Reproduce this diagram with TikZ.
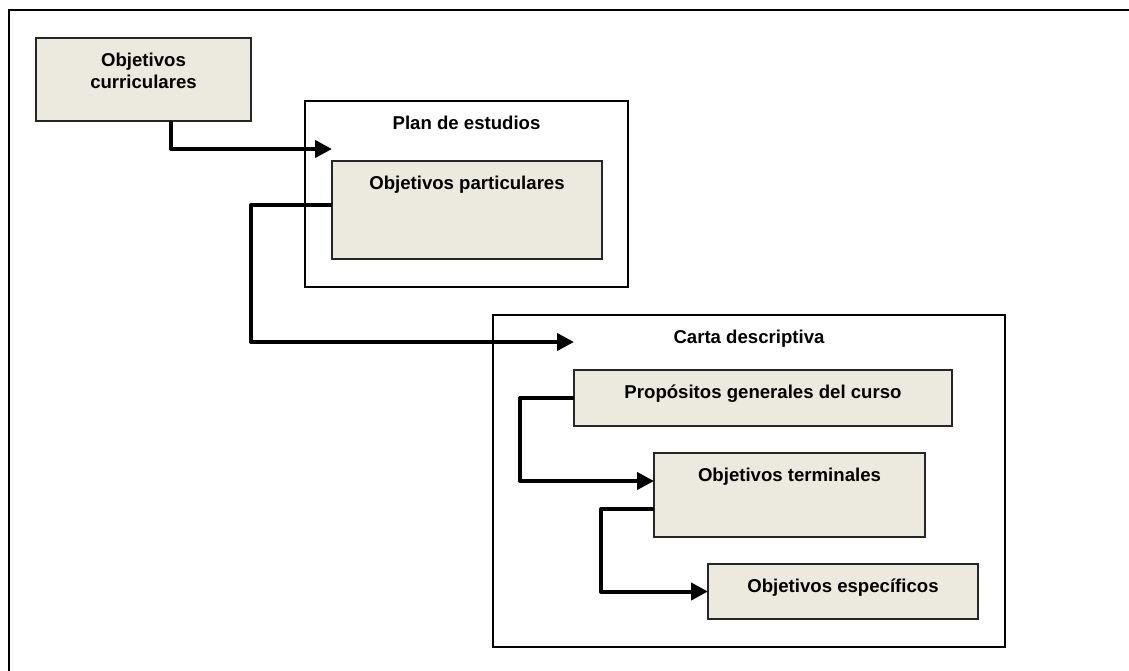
\documentclass[tikz,border=0pt]{standalone}
\usepackage{fontspec}
\setmainfont{Liberation Sans}
\usetikzlibrary{arrows.meta}

\definecolor{cajafondo}{RGB}{236,233,223}

\tikzset{
  caja/.style={draw=black!85, line width=1.5pt, fill=cajafondo, anchor=north west, inner sep=0pt, outer sep=0pt},
  marco/.style={draw, line width=2pt, anchor=north west, inner sep=0pt, outer sep=0pt},
  titulo/.style={anchor=north, yshift=-15pt, inner sep=0pt, align=center, font=\fontsize{18.6}{22.3}\selectfont\bfseries},
  flecha/.style={line width=4pt, line join=round, -{Triangle[length=17pt,width=17pt]}}
}

\begin{document}
\begin{tikzpicture}[x=1pt,y=-1pt] % coordinates in pixels
\useasboundingbox (0,0) rectangle (1129,670);
\draw[line width=2.8pt] (1135,10) -- (9,10) -- (9,676);

% containers
\node[marco, minimum width=323, minimum height=186, label={[titulo]north:Plan de estudios}] (pe) at (305,101) {};
\node[marco, minimum width=512, minimum height=332, label={[titulo]north:Carta descriptiva}] (cd) at (493,315) {};

% boxes
\node[caja, minimum width=215, minimum height=83, label={[titulo]north:{Objetivos\\curriculares}}] (oc) at (36,38) {};
\node[caja, minimum width=270, minimum height=98, label={[titulo]north:Objetivos particulares}] (op) at (332,161) {};
\node[caja, minimum width=378, minimum height=56, label={[titulo]north:Propósitos generales del curso}] (pg) at (574,370) {};
\node[caja, minimum width=271, minimum height=84, label={[titulo]north:Objetivos terminales}] (ot) at (654,453) {};
\node[caja, minimum width=270, minimum height=55, label={[titulo]north:Objetivos específicos}] (oe) at (708,564) {};

% arrows
\draw[flecha] ([xshift=27.5pt]oc.south) |- ([yshift=12pt]op.north west);
\draw[flecha] ([yshift=5pt]op.west) -- ++(-81,0) |- ([yshift=28pt]pg.north west);
\draw[flecha] (pg.west) -- ++(-54,0) |- ([yshift=14pt]ot.west);
\draw[flecha] ([yshift=-14pt]ot.west) -- ++(-53,0) |- (oe.west);
\end{tikzpicture}
\end{document}
